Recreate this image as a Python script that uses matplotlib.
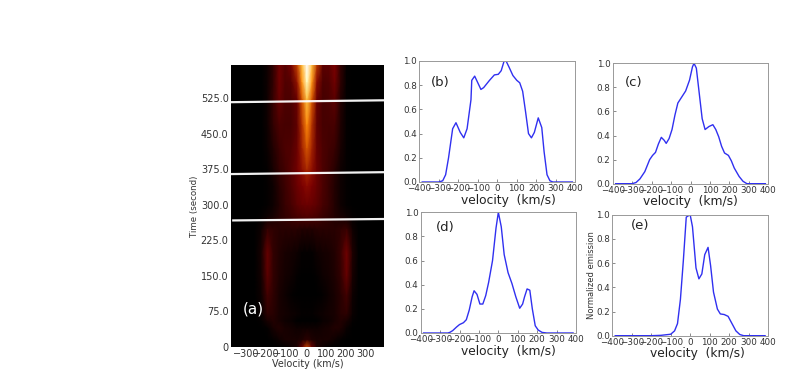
import numpy as np
import matplotlib
matplotlib.use('Agg')
import matplotlib.pyplot as plt

W, H = 789, 374

# panel (a) emission map, rows are time, columns are velocity
map_v = [-385, -260, -225, -195, -165, -135, -105, -75, -45, -20, 5, 30, 55, 85, 115, 145, 175, 205, 235, 265, 395]
map_t = [0, 15, 40, 55, 70, 110, 150, 200, 250, 275, 300, 340, 375, 420, 470, 525, 560, 595]
map_z = [
    [0, 0, 0, 0, 0, 0, .01, .03, .06, .20, .38, .20, .06, .03, .01, 0, 0, 0, 0, 0, 0],
    [0, 0, 0, 0, .01, .03, .05, .05, .05, .06, .09, .06, .05, .05, .05, .03, .01, 0, 0, 0, 0],
    [0, 0, 0, .01, .05, .07, .05, .04, .03, .03, .03, .03, .03, .04, .05, .07, .06, .02, 0, 0, 0],
    [0, 0, .01, .05, .07, .05, .03, .02, 0, 0, 0, 0, 0, .02, .03, .05, .07, .05, .01, 0, 0],
    [0, 0, .02, .09, .08, .05, .04, .03, .02, .01, .01, .01, .02, .03, .04, .05, .08, .09, .02, 0, 0],
    [0, 0, .03, .13, .09, .05, .03, .01, 0, 0, 0, 0, 0, .01, .03, .05, .08, .13, .03, 0, 0],
    [0, 0, .04, .18, .10, .06, .04, .03, .01, 0, 0, 0, .01, .03, .04, .06, .10, .20, .05, 0, 0],
    [0, 0, .05, .20, .10, .07, .05, .04, .03, .01, .01, .01, .03, .04, .05, .07, .11, .22, .06, 0, 0],
    [0, 0, .03, .10, .09, .08, .08, .08, .08, .07, .07, .07, .08, .08, .08, .08, .09, .11, .03, 0, 0],
    [0, 0, .01, .03, .05, .08, .10, .12, .14, .15, .16, .15, .14, .11, .09, .07, .05, .03, .01, 0, 0],
    [0, 0, 0, .01, .03, .07, .11, .14, .18, .20, .21, .20, .18, .14, .11, .07, .03, .01, 0, 0, 0],
    [0, 0, 0, .01, .03, .08, .12, .16, .21, .24, .27, .24, .20, .15, .11, .07, .03, .01, 0, 0, 0],
    [0, 0, 0, .01, .05, .10, .13, .17, .22, .28, .33, .28, .21, .15, .12, .08, .03, .01, 0, 0, 0],
    [0, 0, 0, .02, .07, .12, .15, .16, .21, .32, .42, .32, .20, .15, .13, .11, .05, .01, 0, 0, 0],
    [0, 0, 0, .03, .10, .15, .14, .14, .19, .35, .52, .35, .19, .14, .14, .14, .06, .01, 0, 0, 0],
    [0, 0, 0, .03, .11, .20, .15, .15, .21, .42, .64, .42, .21, .14, .15, .18, .07, .01, 0, 0, 0],
    [0, 0, 0, .03, .10, .22, .16, .17, .29, .54, .88, .54, .27, .15, .16, .22, .09, .01, 0, 0, 0],
    [0, 0, 0, .03, .10, .22, .17, .23, .38, .62, 1.0, .62, .36, .18, .18, .24, .09, .01, 0, 0, 0],
]

# white marks over the map, time at left and right edge
line_t_left = [517, 365, 267]
line_t_right = [521, 369, 270]
line_v_left = [-380, -380, -367]
line_v_right = [393, 393, 393]

time_ticks = [0, 75, 150, 225, 300, 375, 450, 525]
time_labels = ['0', '75.0', '150.0', '225.0', '300.0', '375.0', '450.0', '525.0']
map_vticks = [-300, -200, -100, 0, 100, 200, 300]
prof_ticks = [-400, -300, -200, -100, 0, 100, 200, 300, 400]
norm_ticks = [0.0, 0.2, 0.4, 0.6, 0.8, 1.0]

# spectra panels
v_b = [-385, -300, -280, -265, -250, -229, -212, -190, -172, -155, -135, -131, -116, -84, -70, -40, -15, 5, 20, 35, 45, 60, 80, 100, 115, 130, 145, 160, 175, 190, 210, 228, 240, 255, 270, 285, 385]
y_b = [0, 0, .01, .06, .2, .44, .49, .41, .365, .44, .68, .84, .875, .765, .78, .84, .885, .89, .92, 1.0, 1.0, .95, .88, .84, .82, .75, .58, .40, .365, .41, .53, .45, .25, .06, .01, 0, 0]
v_c = [-385, -300, -280, -260, -235, -210, -195, -180, -165, -150, -135, -125, -110, -95, -80, -65, -45, -25, -5, 10, 18, 30, 45, 60, 75, 95, 115, 130, 145, 160, 175, 195, 210, 225, 250, 270, 290, 385]
y_c = [0, 0, .01, .04, .1, .2, .235, .26, .33, .385, .36, .335, .375, .45, .57, .67, .72, .77, .86, .97, 1.0, .96, .75, .54, .45, .475, .49, .45, .39, .31, .255, .235, .19, .13, .06, .02, 0, 0]
v_d = [-385, -260, -250, -235, -215, -200, -180, -165, -150, -135, -125, -110, -95, -80, -65, -50, -30, -12, 0, 15, 30, 50, 70, 90, 110, 125, 135, 148, 162, 175, 190, 205, 225, 250, 385]
y_d = [0, 0, .005, .02, .05, .07, .085, .11, .19, .30, .35, .32, .24, .24, .31, .42, .60, .87, 1.0, .88, .65, .50, .41, .30, .205, .24, .30, .365, .355, .20, .06, .025, .005, 0, 0]
v_e = [-385, -200, -150, -100, -80, -65, -50, -35, -20, 0, 12, 30, 45, 60, 75, 92, 105, 120, 140, 155, 175, 195, 215, 235, 255, 275, 385]
y_e = [0, 0, .003, .012, .04, .1, .3, .62, .98, 1.0, .9, .56, .47, .51, .67, .73, .58, .36, .22, .18, .175, .16, .1, .04, .01, 0, 0]


def px_axes(fig, left, right, top, bottom):
    return fig.add_axes([left / W, 1 - bottom / H, (right - left) / W, (bottom - top) / H])


fig = plt.figure(figsize=(W / 100, H / 100), dpi=100)

ax = px_axes(fig, 230.7, 384, 65.3, 346.7)
ax.pcolormesh(map_v, map_t, np.array(map_z), cmap='afmhot', vmin=0, vmax=1, shading='gouraud')
for i in range(len(line_t_left)):
    ax.plot([line_v_left[i], line_v_right[i]], [line_t_left[i], line_t_right[i]], color='white', lw=1.6, alpha=0.95)
ax.set_xlim(-380, 393)
ax.set_ylim(0, 595)
ax.set_xticks(map_vticks)
ax.set_yticks(time_ticks)
ax.set_yticklabels(time_labels)
ax.tick_params(labelsize=7, length=0, pad=1.5, colors='#333333')
ax.set_xlabel('Velocity (km/s)', fontsize=6.9, labelpad=0, color='#333333')
ax.set_ylabel('Time (second)', fontsize=6.2, labelpad=1, color='#333333')
for s in ax.spines.values():
    s.set_visible(False)
ax.text(0.08, 0.135, '(a)', color='white', fontsize=11, transform=ax.transAxes, va='center')

# series, name, axes box in pixels, name position, x label centre in axes units
panels = [
    (v_b, y_b, '(b)', (419.3, 575.3, 61, 182), (0.075, 0.82), 0.57),
    (v_c, y_c, '(c)', (612.7, 768.3, 63.3, 183.7), (0.08, 0.84), 0.5),
    (v_d, y_d, '(d)', (420.7, 576, 212.3, 333), (0.10, 0.87), 0.565),
    (v_e, y_e, '(e)', (612.3, 768, 214.7, 335.7), (0.12, 0.91), 0.545),
]
for v, y, name, box, name_pos, label_x in panels:
    ax = px_axes(fig, *box)
    ax.plot(v, y, color='#3030f0', lw=1.0)
    ax.set_xlim(-400, 400)
    ax.set_ylim(0, 1)
    ax.set_xticks(prof_ticks)
    ax.set_yticks(norm_ticks)
    ax.tick_params(labelsize=6.3, length=2, width=0.4, direction='in', pad=1.5, colors='#333333')
    ax.set_xlabel('velocity  (km/s)', fontsize=8.8, labelpad=0.5, color='#222222', x=label_x)
    ax.text(name_pos[0], name_pos[1], name, fontsize=9.5, transform=ax.transAxes, va='center', color='#222222')
    for s in ax.spines.values():
        s.set_color('#999999')
        s.set_linewidth(0.7)
    if name == '(e)':
        ax.set_ylabel('Normalized emission', fontsize=6, labelpad=0.5, color='#333333')

fig.savefig('out.png', dpi=100)
